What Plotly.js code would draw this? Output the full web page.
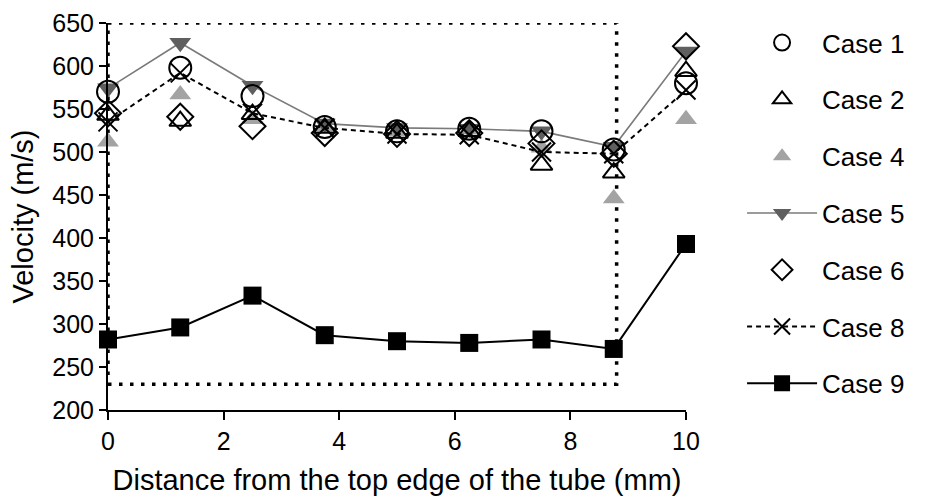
<!DOCTYPE html>
<html>
<head>
<meta charset="utf-8">
<script src="https://cdn.plot.ly/plotly-3.0.1.min.js"></script>
<style>html,body{margin:0;padding:0;background:#fff;}#chart{width:931px;height:499px;}</style>
</head>
<body>
<div id="chart"></div>
<script>
const distance = [0, 1.25, 2.5, 3.75, 5, 6.25, 7.5, 8.75, 10];
const case1 = [570, 598, 565, 529, 524, 527, 524, 503, 580];
const case2 = [543, 536, 544, 528, 522, 524, 485, 476, 594];
const case4 = [512, 567, 538, 529, 524, 526, 505, 446, 538];
const case5 = [574, 627, 577, 533, 528, 527, 524, 506, 617];
const case6 = [545, 541, 530, 522, 521, 522, 510, 498, 623];
const case8 = [535, 592, 545, 528, 521, 520, 500, 498, 572];
const case9 = [282, 296, 333, 287, 280, 278, 282, 271, 393];
const caseNames = ["Case 1", "Case 2", "Case 4", "Case 5", "Case 6", "Case 8", "Case 9"];
const boxX = [0, 8.8];
const boxY = [230, 650];

function tr(name, y, rank, marker, line, mode) {
  return {
    x: distance, y: y, name: name, mode: mode, legendrank: rank,
    legendgroup: name, marker: marker, line: line, cliponaxis: false
  };
}

const traces = [
  tr(caseNames[2], case4, 3, {symbol: 'triangle-up', size: 19, color: '#a3a3a3', line: {width: 0}}, {}, 'markers'),
  tr(caseNames[3], case5, 4, {symbol: 'triangle-down', size: 19, color: '#5f5f5f', line: {width: 0}}, {color: '#7a7a7a', width: 1.6}, 'lines+markers'),
  tr(caseNames[6], case9, 7, {symbol: 'square', size: 18, color: '#000', line: {width: 0}}, {color: '#000', width: 2}, 'lines+markers'),
  tr(caseNames[0], case1, 1, {symbol: 'circle-open', size: 22, color: '#000', line: {width: 2}}, {}, 'markers'),
  tr(caseNames[1], case2, 2, {symbol: 'triangle-up-open', size: 19, color: '#000', line: {width: 2}}, {}, 'markers'),
  tr(caseNames[4], case6, 5, {symbol: 'diamond-open', size: 20, color: '#000', line: {width: 2}}, {}, 'markers'),
  tr(caseNames[5], case8, 6, {symbol: 'x-thin-open', size: 19, color: '#000', line: {width: 2}}, {color: '#000', width: 2, dash: '5px,4px'}, 'lines+markers')
];

const fam = 'Liberation Sans, Arial, sans-serif';
const tickFont = {family: fam, size: 25, color: '#000'};
const titleFont = {family: fam, size: 29, color: '#000'};

const layout = {
  width: 931, height: 499,
  margin: {l: 108, r: 245, t: 23, b: 89},
  paper_bgcolor: '#fff', plot_bgcolor: '#fff',
  font: tickFont,
  showlegend: true,
  legend: {
    x: 1.097, y: 1.01, xanchor: 'left', yanchor: 'top',
    traceorder: 'grouped', tracegroupgap: 20, maxheight: 490,
    font: {family: fam, size: 26, color: '#000'},
    itemwidth: 70, bgcolor: 'rgba(0,0,0,0)'
  },
  xaxis: {
    range: [0, 10], dtick: 2, tick0: 0, showgrid: false, zeroline: false,
    showline: true, linewidth: 2, linecolor: '#000',
    ticks: 'outside', ticklen: 8, tickwidth: 2, tickcolor: '#000',
    tickfont: tickFont,
    title: {text: 'Distance from the top edge of the tube (mm)', font: titleFont, standoff: 16}
  },
  yaxis: {
    range: [200, 650], dtick: 50, tick0: 200, showgrid: false, zeroline: false,
    showline: true, linewidth: 2, linecolor: '#000',
    ticks: 'outside', ticklen: 7, tickwidth: 2, tickcolor: '#000',
    tickfont: tickFont,
    title: {text: 'Velocity (m/s)', font: titleFont, standoff: 10}
  },
  shapes: [{
    type: 'rect', xref: 'x', yref: 'y',
    x0: boxX[0], x1: boxX[1], y0: boxY[0], y1: boxY[1],
    line: {color: '#000', width: 3.5, dash: '3.5px,7.5px'}, layer: 'below'
  }]
};

Plotly.newPlot('chart', traces, layout, {displayModeBar: false, staticPlot: true});
</script>
</body>
</html>
